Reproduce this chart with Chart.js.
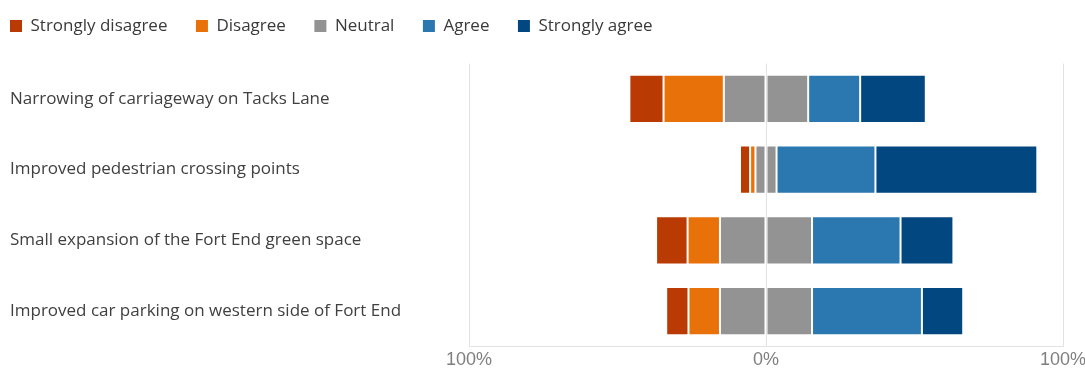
<!DOCTYPE html>
<html>
<head>
<meta charset="utf-8">
<script src="https://cdn.jsdelivr.net/npm/chart.js@4.4.0/dist/chart.umd.min.js"></script>
<style>
  html, body { margin: 0; padding: 0; background: #ffffff; }
  #wrap { width: 1085px; height: 370px; position: relative; }
</style>
</head>
<body>
<div id="wrap"><canvas id="chart"></canvas></div>
<script>
const questions = [
  'Narrowing of carriageway on Tacks Lane',
  'Improved pedestrian crossing points',
  'Small expansion of the Fort End green space',
  'Improved car parking on western side of Fort End'
];

// percentage of responses per question
const stronglyDisagree = [11.5, 3.4, 10.6, 7.5];
const disagree = [20.3, 1.8, 10.9, 10.6];
const neutral = [28.4, 7.1, 31.0, 31.0];
const agree = [17.5, 33.3, 29.8, 37.0];
const stronglyAgree = [22.1, 54.5, 17.8, 13.9];

const axisTicks = [-100, 0, 100];

const colors = {
  sd: '#b93a02',
  d: '#e97109',
  n: '#939393',
  a: '#2b78b0',
  sa: '#02477f'
};

const uiFont = '"Open Sans", sans-serif';

// negative side stacks outward from zero in dataset order
const datasets = [
  { label: 'Neutral', data: neutral.map(v => -v / 2), backgroundColor: colors.n, legendOrder: 2 },
  { label: 'Disagree', data: disagree.map(v => -v), backgroundColor: colors.d, legendOrder: 1 },
  { label: 'Strongly disagree', data: stronglyDisagree.map(v => -v), backgroundColor: colors.sd, legendOrder: 0 },
  { label: 'Neutral ', data: neutral.map(v => v / 2), backgroundColor: colors.n, legendOrder: -1 },
  { label: 'Agree', data: agree, backgroundColor: colors.a, legendOrder: 3 },
  { label: 'Strongly agree', data: stronglyAgree, backgroundColor: colors.sa, legendOrder: 4 }
].map(ds => Object.assign(ds, {
  stack: 'likert',
  borderColor: 'rgba(255,255,255,0.35)',
  borderWidth: 1,
  borderSkipped: false,
  barPercentage: 0.68,
  categoryPercentage: 1
}));

const legendPad = 28.5;

// legend sits flush left and near the top, with the plot pushed below it
const legendPlacement = {
  id: 'legendPlacement',
  afterLayout(chart) {
    chart.legend.left = 10 - legendPad;
    chart.legend.top = -11;
  }
};

new Chart(document.getElementById('chart'), {
  type: 'bar',
  data: { labels: questions, datasets: datasets },
  plugins: [legendPlacement],
  options: {
    indexAxis: 'y',
    responsive: true,
    maintainAspectRatio: false,
    animation: false,
    layout: { padding: { top: 8, left: 10, right: 22, bottom: 0 } },
    scales: {
      x: {
        stacked: true,
        min: -100,
        max: 100,
        afterBuildTicks(axis) {
          axis.ticks = axisTicks.map(v => ({ value: v }));
        },
        afterFit(axis) {
          axis.height = 23.5;
          axis.paddingLeft = 0;
          axis.paddingRight = 0;
        },
        grid: { color: '#e2e2e2', lineWidth: 1, drawTicks: false, z: 1 },
        border: { color: '#e2e2e2', z: 1 },
        ticks: {
          padding: 5,
          color: '#7f7f7f',
          font: { family: '"Liberation Sans", Arial, sans-serif', size: 18, lineHeight: 1 },
          callback: v => Math.abs(v) + '%'
        }
      },
      y: {
        stacked: true,
        grid: { display: false },
        border: { display: false },
        afterFit(axis) { axis.width = 459; },
        ticks: {
          crossAlign: 'far',
          padding: 0,
          color: '#404040',
          font: { family: uiFont, size: 17 }
        }
      }
    },
    plugins: {
      legend: {
        position: 'top',
        align: 'start',
        labels: {
          boxWidth: 12,
          boxHeight: 12,
          padding: legendPad,
          color: '#3a3a3a',
          font: { family: uiFont, size: 17 },
          filter: item => item.text !== 'Neutral ',
          sort: (a, b) => datasets[a.datasetIndex].legendOrder - datasets[b.datasetIndex].legendOrder,
          generateLabels(chart) {
            const items = Chart.defaults.plugins.legend.labels.generateLabels(chart);
            items.forEach(it => { it.lineWidth = 0; it.strokeStyle = 'transparent'; });
            return items;
          }
        }
      },
      tooltip: { enabled: false }
    }
  }
});
</script>
</body>
</html>
